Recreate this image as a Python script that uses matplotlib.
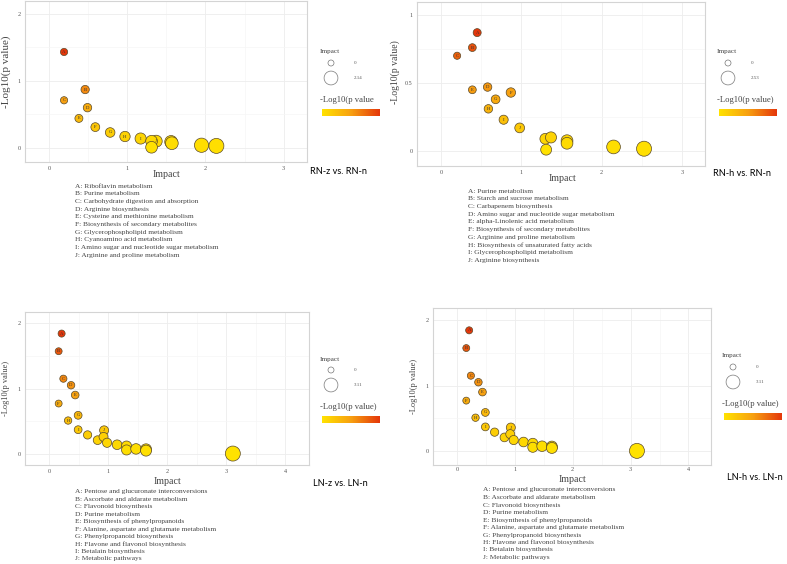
import numpy as np
import matplotlib
matplotlib.use('Agg')
import matplotlib.pyplot as plt
from matplotlib.colors import LinearSegmentedColormap, Normalize
import matplotlib.colorbar as mcolorbar

# ================================
# DATA
# ================================

letters = ["A", "B", "C", "D", "E", "F", "G", "H", "I", "J"]

rnz_impact = [0.19, 0.46, 0.19, 0.49, 0.38, 0.59, 0.78, 0.97, 1.17, 1.37,
              1.31, 1.31, 1.56, 1.57, 1.95, 2.14]
rnz_logp = [1.43, 0.87, 0.71, 0.60, 0.44, 0.31, 0.23, 0.17, 0.14, 0.10,
            0.10, 0.01, 0.09, 0.07, 0.04, 0.03]
rnz_paths = ["Riboflavin metabolism",
             "Purine metabolism",
             "Carbohydrate digestion and absorption",
             "Arginine biosynthesis",
             "Cysteine and methionine metabolism",
             "Biosynthesis of secondary metabolites",
             "Glycerophospholipid metabolism",
             "Cyanoamino acid metabolism",
             "Amino sugar and nucleotide sugar metabolism",
             "Arginine and proline metabolism"]

rnh_impact = [0.45, 0.39, 0.20, 0.58, 0.39, 0.87, 0.68, 0.59, 0.78, 0.98,
              1.30, 1.37, 1.31, 1.57, 1.57, 2.15, 2.53]
rnh_logp = [0.87, 0.76, 0.70, 0.47, 0.45, 0.43, 0.38, 0.31, 0.23, 0.17,
            0.09, 0.10, 0.01, 0.076, 0.057, 0.03, 0.017]
rnh_paths = ["Purine metabolism",
             "Starch and sucrose metabolism",
             "Carbapenem biosynthesis",
             "Amino sugar and nucleotide sugar metabolism",
             "alpha-Linolenic acid metabolism",
             "Biosynthesis of secondary metabolites",
             "Arginine and proline metabolism",
             "Biosynthesis of unsaturated fatty acids",
             "Glycerophospholipid metabolism",
             "Arginine biosynthesis"]

ln_impact = [0.21, 0.16, 0.24, 0.37, 0.44, 0.16, 0.49, 0.32, 0.49, 0.93,
             0.65, 0.82, 0.92, 0.98, 1.15, 1.31, 1.31, 1.47, 1.64, 1.64, 3.11]
ln_logp = [1.84, 1.57, 1.15, 1.05, 0.90, 0.77, 0.59, 0.51, 0.37, 0.36,
           0.29, 0.21, 0.26, 0.17, 0.14, 0.12, 0.06, 0.076, 0.07, 0.05, 0.005]
ln_paths = ["Pentose and glucuronate interconversions",
            "Ascorbate and aldarate metabolism",
            "Flavonoid biosynthesis",
            "Purine metabolism",
            "Biosynthesis of phenylpropanoids",
            "Alanine, aspartate and glutamate metabolism",
            "Phenylpropanoid biosynthesis",
            "Flavone and flavonol biosynthesis",
            "Betalain biosynthesis",
            "Metabolic pathways"]

# ================================
# STYLE
# ================================

W, H = 787, 564
SERIF = "Liberation Serif"
cmap = LinearSegmentedColormap.from_list("yr", ["#FFE200", "#F7A010", "#E4360A"])

fig = plt.figure(figsize=(W / 100, H / 100), dpi=100)
fig.patch.set_facecolor("white")

lax = fig.add_axes([0, 0, 1, 1], facecolor="none")
lax.set_xlim(0, W)
lax.set_ylim(H, 0)
lax.axis("off")


def box(l, t, r, b):
    return [l / W, 1 - b / H, (r - l) / W, (b - t) / H]


def ftext(x, y, s, **kw):
    fig.text(x / W, 1 - y / H, s, **kw)


def diam(v, vmax):
    # bubble diameter in points (px -> pt)
    return (6.5 + 8.5 * np.asarray(v) / vmax) * 0.72


def panel(rect, impact, logp, paths, xlim, ylim, xticks, yticks, ytl,
          xlab, ylab, ylab_fs, leg, cb_title, paths_xy, title, title_xy,
          xpad=3):
    ax = fig.add_axes(box(*rect))
    imp = np.array(impact)
    lp = np.array(logp)
    vmax = imp.max()
    norm = Normalize(0, lp.max())

    ax.scatter(imp, lp, s=diam(imp, vmax) ** 2, c=lp, cmap=cmap, norm=norm,
               edgecolors="#5a4a2a", linewidths=0.5, zorder=3)
    for i, lab in enumerate(letters):
        ax.text(imp[i], lp[i], lab, fontsize=3.4, family=SERIF,
                ha="center", va="center", color="#333333", zorder=4)

    ystep = yticks[1] - yticks[0]
    ax.set_xticks(xticks)
    ax.set_yticks(yticks)
    ax.set_yticklabels(ytl)
    ax.set_xticks(np.arange(xticks[0] - 0.5, xticks[-1] + 1, 1), minor=True)
    ax.set_yticks(np.arange(yticks[0] - ystep / 2, yticks[-1] + ystep, ystep),
                  minor=True)
    ax.set_xlim(*xlim)
    ax.set_ylim(*ylim)
    ax.grid(True, which="major", color="#ededed", lw=0.6)
    ax.grid(True, which="minor", color="#f6f6f6", lw=0.5)
    ax.set_axisbelow(True)
    ax.tick_params(which="both", length=0, pad=3, labelsize=4.4,
                   labelcolor="#555555")
    ax.tick_params(axis="x", pad=xpad)
    for t in ax.get_xticklabels() + ax.get_yticklabels():
        t.set_family(SERIF)
    for s in ax.spines.values():
        s.set_color("#d4d4d4")
        s.set_linewidth(0.8)

    ftext(xlab[0], xlab[1], "Impact", fontsize=7.2, family=SERIF,
          color="#444444", ha="center", va="center")
    ftext(ylab[0], ylab[1], "-Log10(p value)", fontsize=ylab_fs, family=SERIF,
          color="#444444", ha="center", va="center", rotation=90)

    # legend: bubble size
    lx, ly = leg
    ftext(lx, ly, "Impact", fontsize=5.2, family=SERIF, color="#444444",
          va="center")
    lax.scatter([lx + 11, lx + 11], [ly + 11, ly + 26],
                s=diam([0, vmax], vmax) ** 2 * 0.85, facecolors="white",
                edgecolors="#777777", linewidths=0.5)
    for yy, s in [(ly + 11, "0"), (ly + 26, f"{vmax:.2f}")]:
        ftext(lx + 34, yy, s, fontsize=3.6, family=SERIF, color="#555555",
              va="center")

    # legend: colour
    ftext(lx, ly + 48, cb_title, fontsize=6.2, family=SERIF,
          color="#444444", va="center")
    cax = fig.add_axes(box(lx + 2, ly + 57, lx + 60, ly + 64))
    cb = mcolorbar.ColorbarBase(cax, cmap=cmap, norm=norm,
                                orientation="horizontal")
    cb.outline.set_visible(False)
    cax.set_xticks([])
    cax.set_yticks([])

    # pathway key
    px, py, step = paths_xy
    for i, p in enumerate(paths):
        ftext(px, py + i * step, f"{letters[i]}: {p}", fontsize=5.3,
              family=SERIF, color="#444444", va="center")

    ftext(title_xy[0], title_xy[1], title, fontsize=6.6, family="Lato",
          color="black", va="center")
    return ax


# ================================
# PANELS
# ================================

panel((25, 1, 307, 162), rnz_impact, rnz_logp, rnz_paths,
      (-0.31, 3.3), (-0.21, 2.19), [0, 1, 2, 3], [0, 1, 2], ["0", "1", "2"],
      (166, 174), (6, 72), 8.0, (320, 52), "-Log10(p value", (75, 186, 7.7),
      "RN-z vs. RN-n", (310, 172))

panel((417, 2, 705, 166), rnh_impact, rnh_logp, rnh_paths,
      (-0.3, 3.29), (-0.11, 1.095), [0, 1, 2, 3], [0, 0.5, 1],
      ["0", "0.5", "1"],
      (562, 179), (395, 72), 7.0, (717, 52), "-Log10(p value)",
      (468, 191, 7.7), "RN-h vs. RN-n", (713, 173))

panel((25, 312, 309, 465), ln_impact, ln_logp, ln_paths,
      (-0.41, 4.4), (-0.17, 2.17), [0, 1, 2, 3, 4], [0, 1, 2],
      ["0", "1", "2"],
      (167, 481), (6, 388), 6.0, (320, 359), "-Log10(p value)",
      (75, 492, 7.4), "LN-z vs. LN-n", (313, 483))

panel((433, 308, 711, 465), ln_impact, ln_logp, ln_paths,
      (-0.415, 4.39), (-0.21, 2.18), [0, 1, 2, 3, 4], [0, 1, 2],
      ["0", "1", "2"],
      (572, 479), (414, 386), 6.0, (722, 356), "-Log10(p value)",
      (483, 490, 7.5), "LN-h vs. LN-n", (727, 477), xpad=1.5)

fig.savefig("out.png", dpi=100, facecolor="white")
